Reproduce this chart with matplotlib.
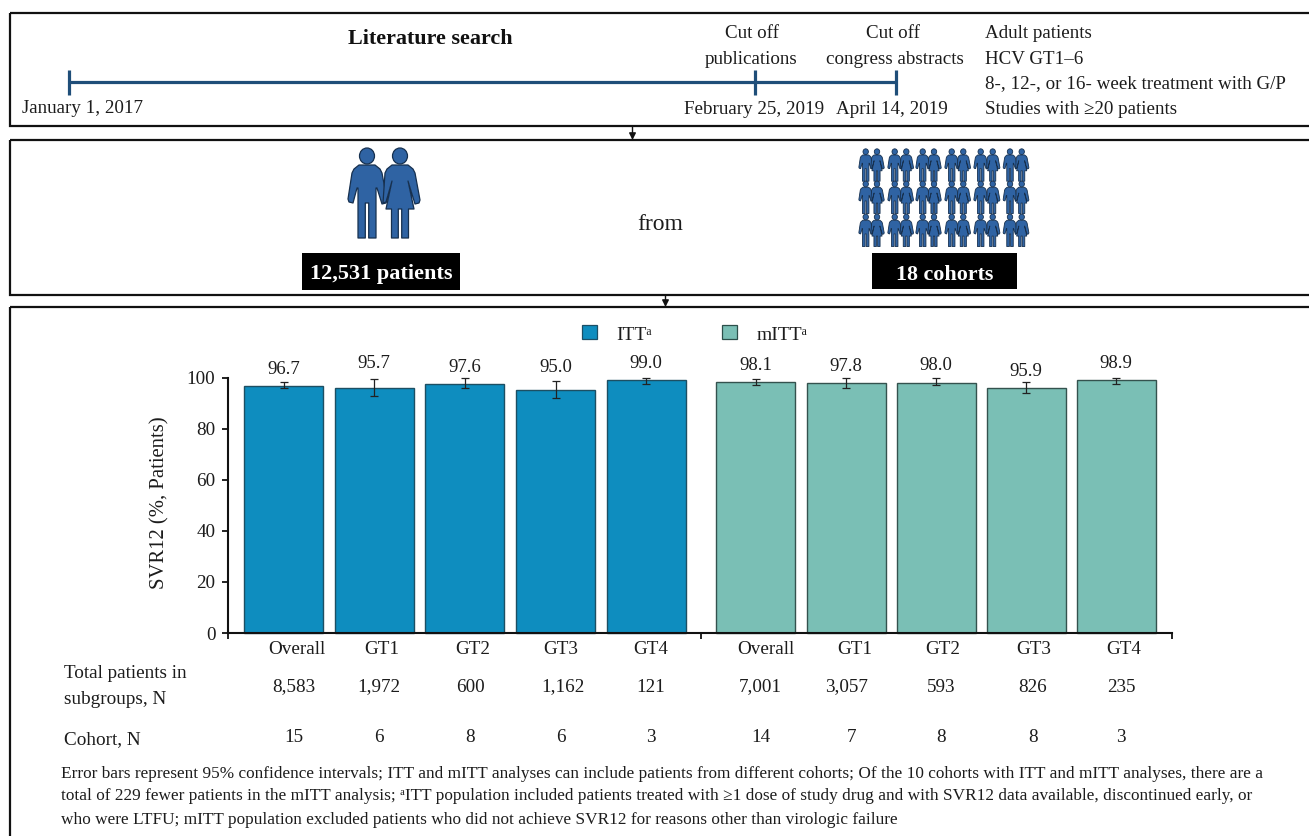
import matplotlib
matplotlib.use("Agg")
import matplotlib.pyplot as plt
from matplotlib.patches import Rectangle, Polygon, Ellipse

plt.rcParams['font.family'] = ['Liberation Serif', 'DejaVu Sans']

# ---------- data ----------
categories = ["Overall", "GT1", "GT2", "GT3", "GT4"]
itt_values = [96.7, 95.7, 97.6, 95.0, 99.0]
itt_low = [95.8, 92.9, 95.8, 92.1, 97.3]
itt_high = [98.2, 99.5, 100.0, 98.8, 100.0]
mitt_values = [98.1, 97.8, 98.0, 95.9, 98.9]
mitt_low = [97.1, 95.8, 96.9, 94.0, 97.6]
mitt_high = [99.5, 100.0, 99.9, 98.4, 99.9]
itt_totals = ["8,583", "1,972", "600", "1,162", "121"]
mitt_totals = ["7,001", "3,057", "593", "826", "235"]
itt_cohorts = ["15", "6", "8", "6", "3"]
mitt_cohorts = ["14", "7", "8", "8", "3"]
y_ticks = [0, 20, 40, 60, 80, 100]

# ---------- layout (pixels of the reference) ----------
W, H = 1309, 836
ITT_COLOR, MITT_COLOR = "#0E8DBF", "#7ABFB5"
NAVY, ICON, ICON_EDGE = "#1F4E79", "#2F63A3", "#16304F"
TXT = "#1c1c1c"
itt_x = [283.5, 374, 464.5, 555.5, 646]
mitt_x = [755.5, 846, 936, 1026, 1116]
BAR_W = 79
AX_L, AX_R, AX_T, AX_B = 228.5, 1172, 377.5, 633
TEXT_DY = 3.5

fig = plt.figure(figsize=(W / 100, H / 100), dpi=100, facecolor="white")
ov = fig.add_axes([0, 0, 1, 1], zorder=1)
ov.set_xlim(0, W)
ov.set_ylim(H, 0)
ov.axis("off")

def T(x, y, s, size=13.7, ha="center", va="center", **kw):
    kw.setdefault("color", TXT)
    return ov.text(x, y + TEXT_DY, s, fontsize=size, ha=ha, va=va, **kw)

# panel frames
for top, bottom in [(13, 126), (140, 295), (307, 860)]:
    ov.add_patch(Rectangle((9.5, top), W + 20, bottom - top, fc="none", ec="#111111", lw=1.6))

# connector arrows
for x, y0, y1 in [(632.5, 126, 140), (665.5, 295, 307)]:
    ov.annotate("", xy=(x, y1), xytext=(x, y0),
                arrowprops=dict(arrowstyle="-|>", color="#111111", lw=1, mutation_scale=10,
                                shrinkA=0, shrinkB=0))

# timeline
ov.plot([69, 896], [82, 82], color=NAVY, lw=2.3, solid_capstyle="butt")
for x in (69, 755, 896):
    ov.plot([x, x], [70, 95], color=NAVY, lw=2.3, solid_capstyle="butt")
T(430, 35, "Literature search", size=15.9, fontweight="bold", color="#111111")
T(22, 105, "January 1, 2017", ha="left")
T(752, 30, "Cut off")
T(751, 55.5, "publications")
T(893, 30, "Cut off")
T(895, 55.5, "congress abstracts")
T(754, 106.5, "February 25, 2019")
T(892, 106.5, "April 14, 2019")
for y, s in [(30, "Adult patients"), (55.5, "HCV GT1–6"),
             (80.5, "8-, 12-, or 16- week treatment with G/P"),
             (105.5, "Studies with ≥20 patients")]:
    T(985, y, s, ha="left")

# people icons (shapes given relative to head centre, in reference pixels at full size)
MAN = [(-8, 9), (8, 9), (13, 13), (15, 17), (20, 44), (19, 47), (15, 48), (10, 32), (9, 32),
       (9, 82), (1.7, 82), (1.7, 47), (-1.7, 47), (-1.7, 82), (-9, 82), (-9, 32), (-10, 32), (-14, 47),
       (-18, 46), (-19, 43), (-15, 17), (-13, 13)]
WOMAN = [(-8, 9), (8, 9), (13, 13), (15, 17), (20, 44), (19, 47), (15, 48), (8, 25), (14, 53),
         (8.5, 53), (8.5, 82), (1.7, 82), (1.7, 53), (-1.7, 53), (-1.7, 82), (-8.5, 82), (-8.5, 53), (-14, 53),
         (-8, 25), (-14, 46), (-17, 47), (-15, 17), (-13, 13)]

def person(cx, head_y, scale, shape, lw):
    pts = [(cx + px * scale, head_y + py * scale) for px, py in shape]
    ov.add_patch(Polygon(pts, closed=True, fc=ICON, ec=ICON_EDGE, lw=lw, joinstyle="round"))
    ov.add_patch(Ellipse((cx, head_y), 15 * scale, 16 * scale, fc=ICON, ec=ICON_EDGE, lw=lw))

person(367, 156, 1.0, MAN, 0.9)
person(400, 156, 1.0, WOMAN, 0.9)
for head_y in (151.7, 184, 217):
    for mx, wx in [(865.7, 877), (894.7, 906.3), (922.7, 934),
                   (951.7, 963.3), (980.7, 992.7), (1010, 1021.7)]:
        person(mx, head_y, 0.36, MAN, 0.6)
        person(wx, head_y, 0.36, WOMAN, 0.6)

T(660.5, 221, "from", size=17)
ov.add_patch(Rectangle((302, 253), 158, 37, fc="black", ec="none"))
ov.add_patch(Rectangle((872, 253), 145, 36, fc="black", ec="none"))
T(381, 271, "12,531 patients", size=16, fontweight="bold", color="white")
T(945, 271, "18 cohorts", size=15.8, fontweight="bold", color="white")

# legend
ov.add_patch(Rectangle((582, 324.5), 15, 14.5, fc=ITT_COLOR, ec="#1b4f66", lw=0.9))
ov.add_patch(Rectangle((722, 324.5), 14.5, 14.5, fc=MITT_COLOR, ec="#2c4f4a", lw=0.9))
T(616, 331.5, "ITTᵃ", ha="left", size=14)
T(757, 331.5, "mITTᵃ", ha="left", size=14)

# bar chart
ax = fig.add_axes([AX_L / W, 1 - AX_B / H, (AX_R - AX_L) / W, (AX_B - AX_T) / H], zorder=2)
ax.patch.set_alpha(0)
ax.set_xlim(AX_L, AX_R)
ax.set_ylim(0, 100)
for xs, vals, lo, hi, col, ec in [(itt_x, itt_values, itt_low, itt_high, ITT_COLOR, "#1d4f63"),
                                  (mitt_x, mitt_values, mitt_low, mitt_high, MITT_COLOR, "#34524e")]:
    ax.bar(xs, vals, width=BAR_W, color=col, edgecolor=ec, linewidth=1.0, clip_on=False)
    err = [[v - l for v, l in zip(vals, lo)], [h - v for v, h in zip(vals, hi)]]
    ax.errorbar(xs, vals, yerr=err, fmt="none", ecolor="#222222", elinewidth=0.9,
                capsize=3.0, capthick=0.9, clip_on=False)
for s in ("top", "right"):
    ax.spines[s].set_visible(False)
for s in ("left", "bottom"):
    ax.spines[s].set_linewidth(1.5)
    ax.spines[s].set_color("#111111")
ax.set_yticks(y_ticks)
ax.set_xticks([AX_L, 700.5, AX_R])
ax.set_xticklabels([])
ax.tick_params(axis="y", length=4.5, width=1.3, labelsize=13.8, pad=5, labelcolor=TXT, color="#111111")
ax.tick_params(axis="x", length=4.5, width=1.3, color="#111111")

ov.text(160, 502.5, "SVR12 (%, Patients)", fontsize=14.9, rotation=90,
        ha="center", va="center", color=TXT)

# value labels
itt_label_y = [365.5, 360.5, 364, 364.5, 360]
mitt_label_y = [362.5, 363, 362, 367.5, 360.5]
for x, v, y in zip(itt_x, itt_values, itt_label_y):
    T(x, y, f"{v:.1f}", size=13.5)
for x, v, y in zip(mitt_x, mitt_values, mitt_label_y):
    T(x, y, f"{v:.1f}", size=13.5)

# table below the axis
cat_x = [297, 382, 473, 561, 651, 766, 855, 943, 1034, 1124]
tot_x = [294, 379, 470, 563, 651, 760, 847, 941, 1033, 1121]
coh_x = [294, 379, 470, 561, 651, 761, 852, 941, 1033, 1121]
for x, s in zip(cat_x, categories + categories):
    T(x, 646.5, s, size=13.8)
for x, s in zip(tot_x, itt_totals + mitt_totals):
    T(x, 683.5, s, size=13.8)
for x, s in zip(coh_x, itt_cohorts + mitt_cohorts):
    T(x, 733.5, s, size=13.8)
T(64, 670, "Total patients in", ha="left", size=13.8)
T(64, 696.5, "subgroups, N", ha="left", size=13.8)
T(64, 736.5, "Cohort, N", ha="left", size=13.8)

# footnote
foot = ["Error bars represent 95% confidence intervals; ITT and mITT analyses can include patients from different cohorts; Of the 10 cohorts with ITT and mITT analyses, there are a",
        "total of 229 fewer patients in the mITT analysis; ᵃITT population included patients treated with ≥1 dose of study drug and with SVR12 data available, discontinued early, or",
        "who were LTFU; mITT population excluded patients who did not achieve SVR12 for reasons other than virologic failure"]
for y, s in zip((770, 793, 816.5), foot):
    T(61, y, s, ha="left", size=12.45)

fig.savefig("out.png", dpi=100, facecolor="white")
